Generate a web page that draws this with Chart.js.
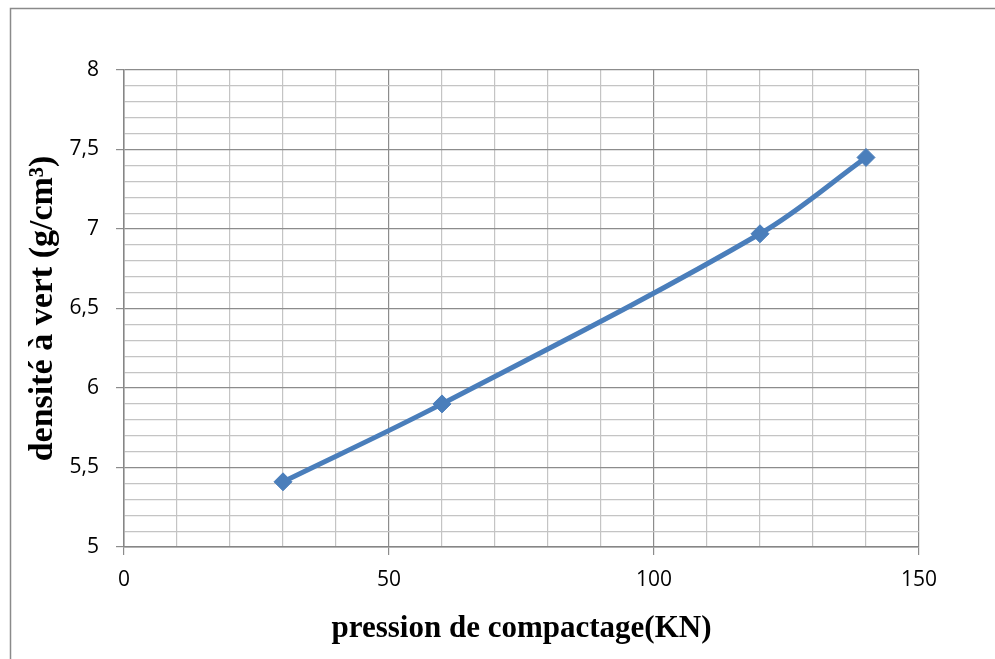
<!DOCTYPE html>
<html>
<head>
<meta charset="utf-8">
<script src="https://cdn.jsdelivr.net/npm/chart.js@4"></script>
<style>
  html, body { margin: 0; padding: 0; background: #fff; }
  canvas { display: block; }
</style>
</head>
<body>
<canvas id="chart" width="995" height="659"></canvas>
<script>
// pression (KN) et densité mesurée
var pression = [30, 60, 120, 140];
var densite = [5.41, 5.90, 6.97, 7.45];

var xTitle = 'pression de compactage(KN)';
var yTitle = 'densité à vert (g/cm³)';

var majorGrid = '#8c8c8c';
var minorGrid = '#c4c4c4';

function isMajorX(v) { return Math.abs(v % 50) < 1e-6; }
function isMajorY(v) { return Math.abs(v * 2 - Math.round(v * 2)) < 1e-6; }

// cadre autour du graphique
var framePlugin = {
  id: 'frame',
  beforeDraw: function(chart) {
    var c = chart.ctx;
    c.save();
    c.strokeStyle = '#8a8a8a';
    c.lineWidth = 1.5;
    c.beginPath();
    c.moveTo(10.5, 700);
    c.lineTo(10.5, 8.5);
    c.lineTo(1000, 8.5);
    c.stroke();
    c.restore();
  }
};

var ctx = document.getElementById('chart').getContext('2d');
new Chart(ctx, {
  type: 'line',
  data: {
    datasets: [{
      data: pression.map(function(p, i) { return { x: p, y: densite[i] }; }),
      borderColor: '#4a7ebb',
      backgroundColor: '#4a7ebb',
      borderWidth: 5,
      pointStyle: 'rectRot',
      pointRadius: 9,
      pointHoverRadius: 9,
      pointBorderWidth: 1,
      tension: 0.35,
      fill: false
    }]
  },
  options: {
    responsive: false,
    animation: false,
    devicePixelRatio: 1,
    layout: { padding: { top: 70, right: 76, left: 0, bottom: 0 } },
    plugins: { legend: { display: false }, tooltip: { enabled: false } },
    scales: {
      x: {
        type: 'linear',
        min: 0,
        max: 150,
        afterFit: function(s) { s.height = 112; },
        ticks: {
          stepSize: 10,
          autoSkip: false,
          maxRotation: 0,
          padding: 12,
          color: '#000',
          font: { family: 'Open Sans', size: 21 },
          callback: function(v) { return isMajorX(v) ? String(v) : ''; }
        },
        grid: {
          color: function(c) { return isMajorX(c.tick.value) ? majorGrid : minorGrid; },
          tickColor: function(c) { return isMajorX(c.tick.value) ? majorGrid : 'rgba(0,0,0,0)'; },
          tickLength: 8,
          lineWidth: 1.2
        },
        border: { color: '#868686', width: 1.5 },
        title: {
          display: true,
          text: xTitle,
          color: '#000',
          font: { family: 'Liberation Serif', size: 31, weight: 'bold' },
          padding: { top: 0, bottom: 11 }
        }
      },
      y: {
        min: 5,
        max: 8,
        afterFit: function(s) { s.width = 124; },
        ticks: {
          stepSize: 0.1,
          autoSkip: false,
          padding: 17,
          color: '#000',
          font: { family: 'Open Sans', size: 21 },
          callback: function(v) {
            return isMajorY(v) ? String(Math.round(v * 2) / 2).replace('.', ',') : '';
          }
        },
        grid: {
          color: function(c) { return isMajorY(c.tick.value) ? majorGrid : minorGrid; },
          tickColor: function(c) { return isMajorY(c.tick.value) ? majorGrid : 'rgba(0,0,0,0)'; },
          tickLength: 8,
          lineWidth: 1.2
        },
        border: { color: '#868686', width: 1.5 },
        title: {
          display: true,
          text: yTitle,
          color: '#000',
          font: { family: 'Liberation Serif', size: 34, weight: 'bold' },
          padding: { top: 23, bottom: 0 }
        }
      }
    }
  },
  plugins: [framePlugin]
});
</script>
</body>
</html>
